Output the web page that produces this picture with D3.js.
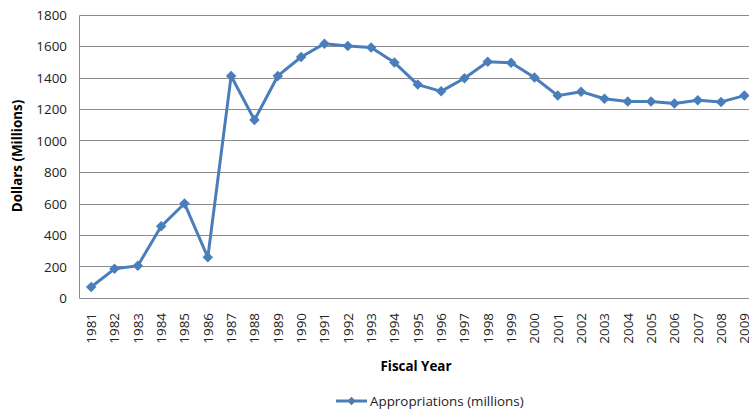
<!DOCTYPE html>
<meta charset="utf-8">
<style>
body { margin: 0; background: #fff; }
svg { font-family: "Open Sans", "Noto Sans", sans-serif; }
</style>
<svg width="749" height="411"></svg>
<script src="https://d3js.org/d3.v7.min.js"></script>
<script>

// fiscal years and appropriations (millions of dollars)
var years = ["1981","1982","1983","1984","1985","1986","1987","1988","1989","1990",
             "1991","1992","1993","1994","1995","1996","1997","1998","1999","2000",
             "2001","2002","2003","2004","2005","2006","2007","2008","2009"];
var appropriations = [70, 185, 205, 455, 600, 258, 1410, 1130, 1410, 1530,
                      1615, 1600, 1590, 1495, 1355, 1312, 1395, 1500, 1493, 1400,
                      1285, 1310, 1265, 1248, 1248, 1235, 1255, 1245, 1285];
var yTicks = [0, 200, 400, 600, 800, 1000, 1200, 1400, 1600, 1800];
var seriesName = "Appropriations (millions)";

var svg = d3.select("svg"),
    plotLeft = 79.5, plotTop = 14.5, plotBottom = 298;

var x = d3.scaleBand()
    .domain(years)
    .range([plotLeft, plotLeft + 29 * 23.33]);

var y = d3.scaleLinear()
    .domain([0, 1800])
    .range([plotBottom, plotTop]);

var blue = "#4a7ebb";

// gridlines
svg.append("g")
  .selectAll("line")
  .data(yTicks)
  .enter().append("line")
    .attr("x1", plotLeft)
    .attr("x2", 749)
    .attr("y1", function(d) { return Math.round(y(d)) + 0.5; })
    .attr("y2", function(d) { return Math.round(y(d)) + 0.5; })
    .attr("stroke", "#8c8c8c")
    .attr("stroke-width", 1);

// left axis line
svg.append("line")
    .attr("x1", plotLeft).attr("x2", plotLeft)
    .attr("y1", Math.round(y(1800)) + 0.5).attr("y2", Math.round(y(0)) + 0.5)
    .attr("stroke", "#8c8c8c");

// y tick labels
svg.append("g")
  .selectAll("text")
  .data(yTicks)
  .enter().append("text")
    .attr("x", 67)
    .attr("y", function(d) { return y(d) + 5; })
    .attr("text-anchor", "end")
    .attr("font-size", "13.4px")
    .attr("fill", "#222")
    .text(function(d) { return d; });

// x tick labels (rotated)
svg.append("g")
  .selectAll("text")
  .data(years)
  .enter().append("text")
    .attr("transform", function(d) {
      return "translate(" + (x(d) + x.bandwidth() / 2 + 5) + "," + 313 + ") rotate(-90)";
    })
    .attr("text-anchor", "end")
    .attr("font-size", "13.4px")
    .attr("fill", "#222")
    .text(function(d) { return d; });

// axis titles
svg.append("text")
    .attr("transform", "translate(22,156) rotate(-90)")
    .attr("text-anchor", "middle")
    .attr("font-size", "13.4px")
    .attr("font-weight", "bold")
    .text("Dollars (Millions)");

svg.append("text")
    .attr("x", 416)
    .attr("y", 371)
    .attr("text-anchor", "middle")
    .attr("font-size", "13.4px")
    .attr("font-weight", "bold")
    .text("Fiscal Year");

// line
var line = d3.line()
    .x(function(d, i) { return x(years[i]) + x.bandwidth() / 2; })
    .y(function(d) { return y(d); });

svg.append("path")
    .datum(appropriations)
    .attr("fill", "none")
    .attr("stroke", blue)
    .attr("stroke-width", 3)
    .attr("stroke-linejoin", "round")
    .attr("d", line);

var diamond = d3.symbol().type(d3.symbolDiamond2).size(70);

svg.append("g")
  .selectAll("path")
  .data(appropriations)
  .enter().append("path")
    .attr("transform", function(d, i) {
      return "translate(" + (x(years[i]) + x.bandwidth() / 2) + "," + y(d) + ")";
    })
    .attr("d", diamond)
    .attr("fill", blue);

// legend
var legend = svg.append("g").attr("transform", "translate(336,401)");
legend.append("line")
    .attr("x1", 0).attr("x2", 31)
    .attr("stroke", blue)
    .attr("stroke-width", 3);
legend.append("path")
    .attr("transform", "translate(15.5,0)")
    .attr("d", d3.symbol().type(d3.symbolDiamond2).size(45))
    .attr("fill", blue);
legend.append("text")
    .attr("x", 34)
    .attr("y", 5)
    .attr("font-size", "13.4px")
    .attr("fill", "#222")
    .text(seriesName);

</script>
